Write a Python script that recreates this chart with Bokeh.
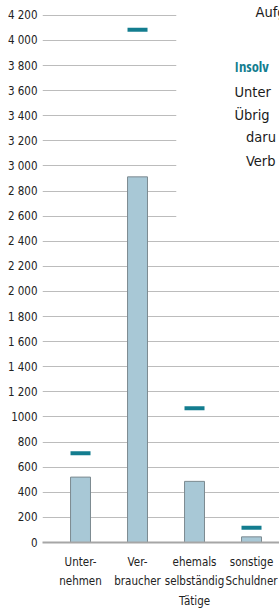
from bokeh.plotting import figure
from bokeh.models import Range1d, FixedTicker, BoxAnnotation, Label, ColumnDataSource
from bokeh.embed import file_html
from bokeh.resources import INLINE

# ---- data ----
categories = ["Unter-\nnehmen", "Ver-\nbraucher", "ehemals\nselbständig\nTätige", "sonstige\nSchuldner"]
bar_values = [521, 2913, 487, 45]
marker_values = [712, 4085, 1069, 117]
y_ticks = [0, 200, 400, 600, 800, 1000, 1200, 1400, 1600, 1800, 2000, 2200,
           2400, 2600, 2800, 3000, 3200, 3400, 3600, 3800, 4000, 4200]
y_tick_labels = ["0", "200", "400", "600", "800", "1000", "1 200", "1 400", "1 600", "1 800",
                 "2 000", "2 200", "2 400", "2 600", "2 800", "3 000", "3 200", "3 400",
                 "3 600", "3 800", "4 000", "4 200"]
side_texts = ["Aufg", "Insolv", "Unter", "Übrig", "daru", "Verb"]
side_levels = [4223, 3790, 3590, 3406, 3230, 3040]

FONT = "'DejaVu Sans Condensed', sans-serif"
BOLD_FONT = "'Open Sans Condensed', 'DejaVu Sans Condensed', sans-serif"
BAR = "#a8c8d6"
TEAL = "#137d8f"

xs = [i + 0.5 for i in range(len(categories))]

p = figure(width=279, height=610, output_backend="svg", toolbar_location=None,
           x_range=Range1d(-0.167, 3.991), y_range=Range1d(0, 4318),
           min_border_left=42, min_border_right=0, min_border_top=0, min_border_bottom=65)
p.outline_line_color = None
p.background_fill_color = "white"
p.border_fill_color = "white"

# grid
p.xgrid.grid_line_color = None
p.ygrid.ticker = FixedTicker(ticks=y_ticks)
p.ygrid.grid_line_color = "#bcbcbc"
p.ygrid.grid_line_width = 1

# y axis
p.yaxis.ticker = FixedTicker(ticks=y_ticks)
p.yaxis.major_label_overrides = {t: l for t, l in zip(y_ticks, y_tick_labels)}
p.yaxis.axis_line_color = None
p.yaxis.major_tick_line_color = None
p.yaxis.minor_tick_line_color = None
p.yaxis.major_tick_in = 0
p.yaxis.major_tick_out = 0
p.yaxis.major_label_standoff = 5
p.yaxis.major_label_text_font = FONT
p.yaxis.major_label_text_font_size = "11.5px"
p.yaxis.major_label_text_color = "#222222"

# x axis
p.xaxis.ticker = FixedTicker(ticks=xs)
p.xaxis.major_label_overrides = {x: c for x, c in zip(xs, categories)}
p.xaxis.axis_line_color = "#a6a6a6"
p.xaxis.axis_line_width = 2
p.xaxis.major_tick_line_color = None
p.xaxis.minor_tick_line_color = None
p.xaxis.major_tick_in = 0
p.xaxis.major_tick_out = 0
p.xaxis.major_label_standoff = 12
p.xaxis.major_label_text_font = FONT
p.xaxis.major_label_text_font_size = "11.5px"
p.xaxis.major_label_text_color = "#222222"
p.xaxis.major_label_text_line_height = 1.4

src = ColumnDataSource(dict(x=xs, top=bar_values, m=marker_values))
p.vbar(x="x", top="top", bottom=0, width=0.35, source=src,
       fill_color=BAR, line_color="#7c8a90", line_width=1)
p.rect(x="x", y="m", width=20, height=4, width_units="screen", height_units="screen",
       source=src, fill_color=TEAL, line_color=None)

# overlapping text panel at top right
p.add_layout(BoxAnnotation(left=2.18, bottom=2500, fill_color="white", fill_alpha=1,
                           line_color=None, level="overlay"))
side_x = [3.57, 3.202, 3.202, 3.202, 3.404, 3.404]
for i, (t, lv, sx) in enumerate(zip(side_texts, side_levels, side_x)):
    bold = (i == 1)
    p.add_layout(Label(x=sx, y=lv, text=t, text_align="left", text_baseline="middle",
                       text_font=BOLD_FONT if bold else FONT, text_font_size="14.5px",
                       text_font_style="bold" if bold else "normal",
                       text_color=TEAL if bold else "#1a1a1a", level="overlay"))

open("out.html", "w").write(file_html(p, INLINE))
